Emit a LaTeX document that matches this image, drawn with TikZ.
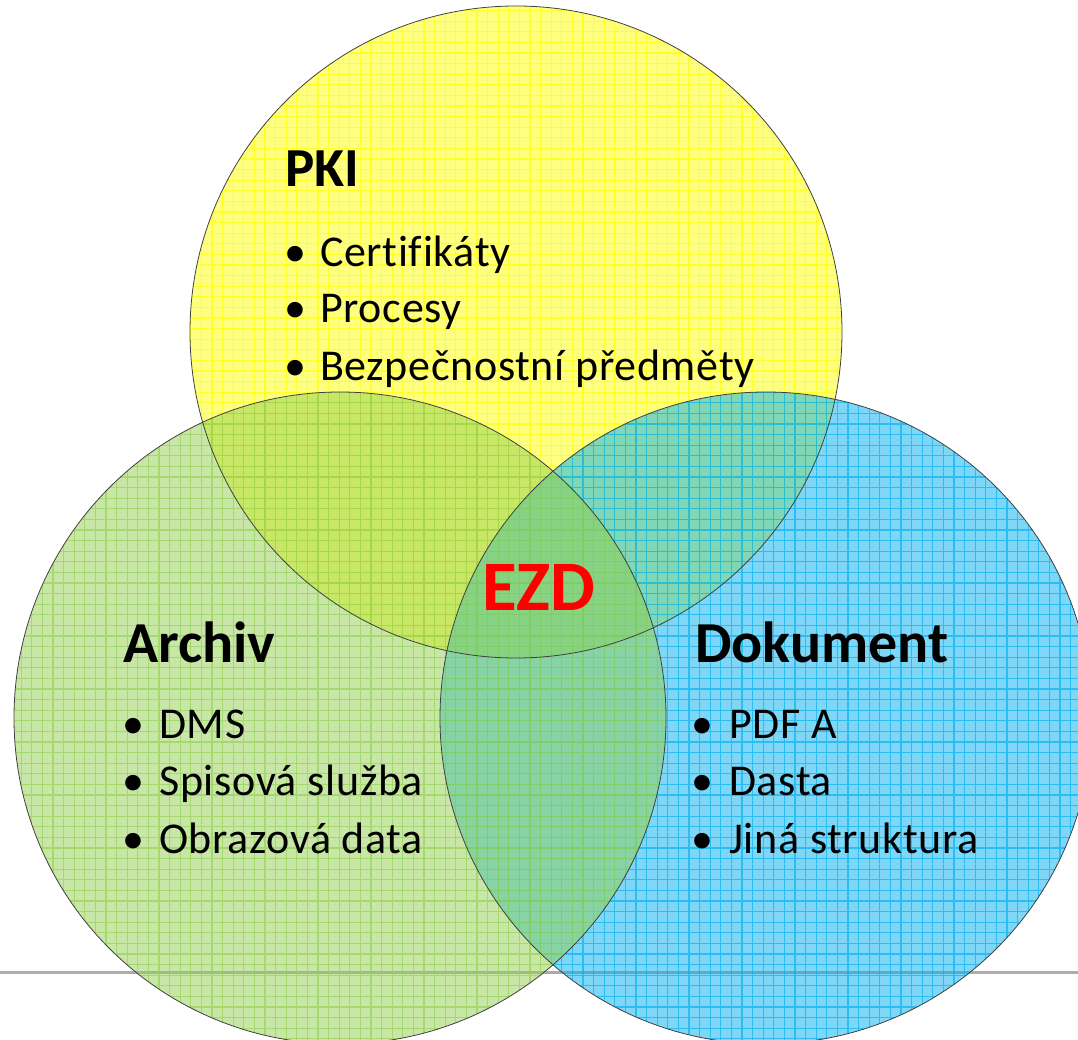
\documentclass[tikz,border=0pt]{standalone}
\usepackage{fontspec}
\setmainfont[Ligatures=CommonOff]{Carlito}
\begin{document}
\begin{tikzpicture}[x=1pt,y=-1pt,
  outline/.style={draw=black!75,line width=0.8pt},
  gridln/.style={line width=1.1pt,draw opacity=0.65},
  head/.style={anchor=base west,inner sep=0pt,font=\fontsize{58}{60}\selectfont\bfseries},
  item/.style={anchor=base west,inner sep=0pt,font=\fontsize{44}{48}\selectfont\addfontfeatures{LetterSpace=1.5}},
  bul/.style={anchor=base,inner sep=0pt,font=\fontsize{44}{48}\selectfont}]
\definecolor{cyel}{HTML}{FFFF00}
\definecolor{cgrn}{HTML}{92D050}
\definecolor{cblu}{HTML}{00B0F0}
\definecolor{cred}{HTML}{FF0000}
\useasboundingbox (0,0) rectangle (1078,1040);
% grey baseline
\coordinate (gl) at (0,972);
\coordinate (gr) at (1078,972);
\draw[line width=3pt,black!32] (gl) -- (gr);
% circle centres
\coordinate (cp) at (516,332);
\coordinate (ca) at (340,718);
\coordinate (cd) at (766,718);
% yellow
\fill[cyel,fill opacity=0.5] (cp) circle[radius=326pt];
\begin{scope}
  \clip (cp) circle[radius=326pt];
  \draw[gridln,cyel,step=10.6pt] (180,0) grid (850,670);
\end{scope}
% blue
\fill[cblu,fill opacity=0.5] (cd) circle[radius=326pt];
\begin{scope}
  \clip (cd) circle[radius=326pt];
  \draw[gridln,cblu,step=10.6pt] (430,380) grid (1100,1050);
\end{scope}
% green
\fill[cgrn,fill opacity=0.5] (ca) circle[radius=326pt];
\begin{scope}
  \clip (ca) circle[radius=326pt];
  \draw[gridln,cgrn,step=10.6pt] (0,380) grid (680,1050);
\end{scope}
% outlines
\draw[outline] (cp) circle[radius=326pt];
\draw[outline] (ca) circle[radius=326pt];
\draw[outline] (cd) circle[radius=326pt];
% PKI
\node[head,font=\fontsize{55}{58}\selectfont\bfseries] (pki) at (285,187) {PKI};
\node[bul] (pb1) at (295,267) {•};
\node[item] (p1) at (320,267) {Certifikáty};
\node[bul] (pb2) at (295,323) {•};
\node[item] (p2) at (320,323) {Procesy};
\node[bul] (pb3) at (295,380) {•};
\node[item] (p3) at (320,380) {Bezpečnostní předměty};
% EZD
\node[anchor=base west,inner sep=0pt,text=cred,font=\fontsize{71}{74}\selectfont\bfseries] (ezd) at (482,610) {EZD};
% Archiv
\node[head] (arch) at (123,662) {Archiv};
\node[bul] (ab1) at (133,738) {•};
\node[item] (a1) at (159,738) {DMS};
\node[bul] (ab2) at (133,795) {•};
\node[item] (a2) at (159,795) {Spisová služba};
\node[bul] (ab3) at (133,853) {•};
\node[item] (a3) at (159,853) {Obrazová data};
% Dokument
\node[head] (dok) at (695,662) {Dokument};
\node[bul] (db1) at (702,738) {•};
\node[item] (d1) at (729,738) {PDF A};
\node[bul] (db2) at (702,795) {•};
\node[item] (d2) at (729,795) {Dasta};
\node[bul] (db3) at (702,853) {•};
\node[item] (d3) at (729,853) {Jiná struktura};
\end{tikzpicture}
\end{document}
